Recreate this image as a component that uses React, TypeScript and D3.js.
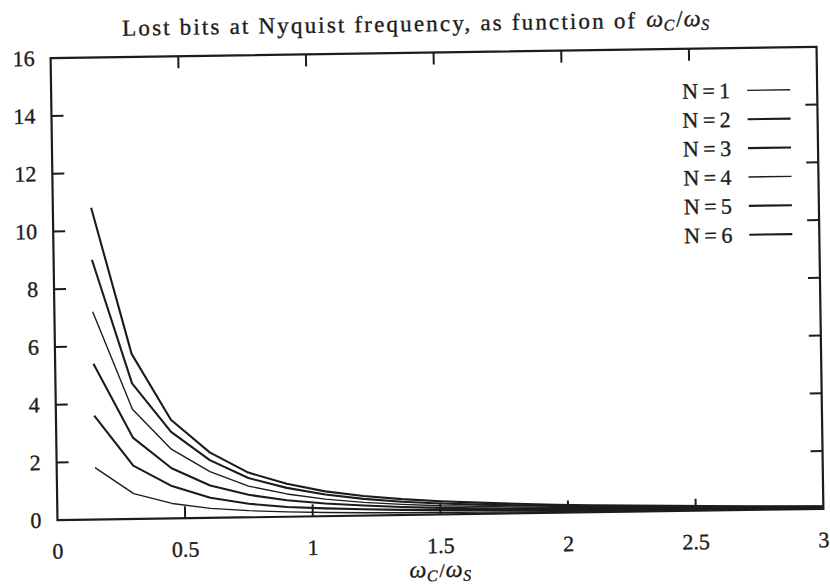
import React from 'react';
import * as d3 from 'd3';

// x samples (omega_C / omega_S)
const xValues = [0.15, 0.3, 0.45, 0.6, 0.75, 0.9, 1.05, 1.2, 1.35, 1.5, 1.65, 1.8, 1.95, 2.1, 2.25, 2.4, 2.55, 2.7, 2.85, 3.0];

// Lost bits for each filter order N
const lostN1 = [1.8, 0.88, 0.52, 0.33, 0.23, 0.17, 0.13, 0.1, 0.08, 0.07, 0.06, 0.05, 0.04, 0.04, 0.03, 0.03, 0.02, 0.02, 0.02, 0.01];
const lostN2 = [3.6, 1.85, 1.12, 0.7, 0.47, 0.34, 0.27, 0.22, 0.18, 0.15, 0.13, 0.11, 0.095, 0.08, 0.07, 0.06, 0.05, 0.043, 0.036, 0.03];
const lostN3 = [5.4, 2.82, 1.74, 1.12, 0.78, 0.57, 0.44, 0.35, 0.28, 0.23, 0.19, 0.165, 0.14, 0.12, 0.105, 0.09, 0.075, 0.063, 0.054, 0.045];
const lostN4 = [7.2, 3.8, 2.4, 1.6, 1.08, 0.79, 0.59, 0.46, 0.37, 0.3, 0.26, 0.22, 0.19, 0.16, 0.14, 0.12, 0.1, 0.085, 0.072, 0.06];
const lostN5 = [9.0, 4.7, 3.0, 2.0, 1.36, 1.0, 0.75, 0.58, 0.46, 0.38, 0.32, 0.28, 0.24, 0.2, 0.17, 0.15, 0.125, 0.105, 0.09, 0.075];
const lostN6 = [10.8, 5.72, 3.42, 2.27, 1.55, 1.14, 0.86, 0.68, 0.55, 0.46, 0.39, 0.33, 0.28, 0.24, 0.21, 0.18, 0.15, 0.125, 0.105, 0.09];

const seriesLabels = ['N=1', 'N=2', 'N=3', 'N=4', 'N=5', 'N=6'];
const seriesValues = [lostN1, lostN2, lostN3, lostN4, lostN5, lostN6];
const seriesWidths = [1.4, 2.1, 2.1, 1.4, 2.1, 2.1];

const xTicks = [0, 0.5, 1, 1.5, 2, 2.5, 3];
const xTickLabels = ['0', '0.5', '1', '1.5', '2', '2.5', '3'];
const yTicks = [0, 2, 4, 6, 8, 10, 12, 14, 16];
const yTickLabels = ['0', '2', '4', '6', '8', '10', '12', '14', '16'];

const INK = '#1c1c1c';
const FONT = '"Liberation Serif", "Times New Roman", serif';

function OmegaRatio({ size, sub, slash }: { size: number; sub: number; slash: number }) {
  return (
    <>
      <tspan fontStyle="italic" fontSize={size}>ω</tspan>
      <tspan fontStyle="italic" fontSize={sub} dy={4} dx={0.5}>C</tspan>
      <tspan fontSize={slash} dy={-4} dx={2}>/</tspan>
      <tspan fontStyle="italic" fontSize={size} dx={1}>ω</tspan>
      <tspan fontStyle="italic" fontSize={sub} dy={4} dx={0.5}>S</tspan>
    </>
  );
}

export default function App() {
  const W = 830;
  const H = 584;
  const left = 54, right = 820, top = 52.5, bottom = 514.5;
  const x = d3.scaleLinear().domain([0, 3]).range([left, right]);
  const y = d3.scaleLinear().domain([0, 16]).range([bottom, top]);
  const line = d3
    .line<number>()
    .x((_, i) => x(xValues[i]))
    .y((d) => y(d));
  const tickLen = 12;
  const legendY0 = 95;
  const legendStep = y(0) - y(1);

  return (
    <svg
      width={W}
      height={H}
      viewBox={`0 0 ${W} ${H}`}
      style={{ position: 'absolute', left: 0, top: 0, background: '#fff' }}
    >
      <rect x={0} y={0} width={W} height={H} fill="#fff" />
      <g transform="rotate(-0.85, 437, 283.5)" fill={INK} fontFamily={FONT} stroke={INK} strokeWidth={0}>
        {/* title */}
        <text x={126} y={31} fontSize={23} textLength={513} lengthAdjust="spacing" strokeWidth={0.35}>
          Lost bits at Nyquist frequency, as function of
        </text>
        <text x={650} y={30} fontSize={23} strokeWidth={0.35}>
          <OmegaRatio size={24} sub={16} slash={23} />
        </text>

        {/* curves */}
        {seriesValues.map((vals, i) => (
          <path
            key={seriesLabels[i]}
            d={line(vals) || ''}
            fill="none"
            stroke={INK}
            strokeWidth={seriesWidths[i]}
            strokeLinejoin="round"
          />
        ))}

        {/* frame */}
        <rect
          x={left}
          y={top}
          width={right - left}
          height={bottom - top}
          fill="none"
          stroke={INK}
          strokeWidth={2.2}
        />

        {/* x ticks */}
        {xTicks.map((t, i) => (
          <g key={'xt' + i}>
            {t > 0 && t < 3 && (
              <>
                <line x1={x(t)} x2={x(t)} y1={bottom} y2={bottom - tickLen} stroke={INK} strokeWidth={2} />
                <line x1={x(t)} x2={x(t)} y1={top} y2={top + tickLen} stroke={INK} strokeWidth={2} />
              </>
            )}
            <text x={x(t)} y={bottom + 38.5} textAnchor="middle" fontSize={22} strokeWidth={0.35}>
              {xTickLabels[i]}
            </text>
          </g>
        ))}

        {/* y ticks */}
        {yTicks.map((t, i) => (
          <g key={'yt' + i}>
            {t > 0 && t < 16 && (
              <>
                <line x1={left} x2={left + tickLen} y1={y(t)} y2={y(t)} stroke={INK} strokeWidth={2} />
                <line x1={right} x2={right - tickLen} y1={y(t)} y2={y(t)} stroke={INK} strokeWidth={2} />
              </>
            )}
            <text x={left - 16} y={y(t) + 7.5} textAnchor="end" fontSize={22} strokeWidth={0.35}>
              {yTickLabels[i]}
            </text>
          </g>
        ))}

        {/* x axis label */}
        <text x={436} y={577} textAnchor="middle" fontSize={22} strokeWidth={0.35}>
          <OmegaRatio size={24} sub={16} slash={19} />
        </text>

        {/* legend */}
        {seriesLabels.map((lab, i) => {
          const ly = legendY0 + i * legendStep;
          return (
            <g key={'lg' + i}>
              <text x={733} y={ly + 7.5} textAnchor="end" fontSize={22} strokeWidth={0.35}>
                {lab.replace('=', '\u2009=\u2009')}
              </text>
              <line x1={750} x2={793} y1={ly} y2={ly} stroke={INK} strokeWidth={seriesWidths[i]} />
            </g>
          );
        })}
      </g>
    </svg>
  );
}
